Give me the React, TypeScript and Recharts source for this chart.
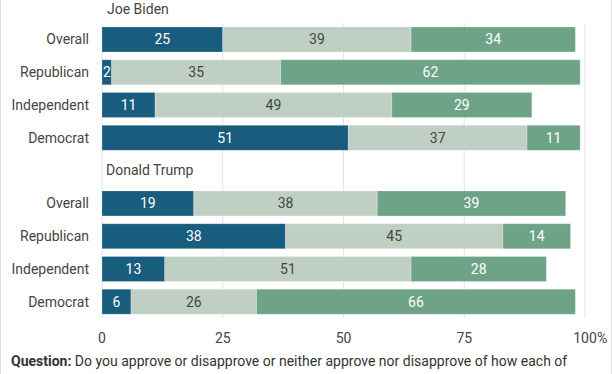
import React from 'react';
import { BarChart, Bar, XAxis, YAxis, CartesianGrid, LabelList } from 'recharts';

const groups = ['Overall', 'Republican', 'Independent', 'Democrat'];
const bidenApprove = [25, 2, 11, 51];
const bidenNeither = [39, 35, 49, 37];
const bidenDisapprove = [34, 62, 29, 11];
const trumpApprove = [19, 38, 13, 6];
const trumpNeither = [38, 45, 51, 26];
const trumpDisapprove = [39, 14, 28, 66];
const xTicks = [0, 25, 50, 75, 100];

const BLUE = '#185d7d';
const LIGHT = '#bfcfc4';
const GREEN = '#6ea387';
const TEXT = '#444';
const FONT = 'Roboto, "Noto Sans", sans-serif';

const rows: any[] = [
  ...groups.map((g, i) => ({
    id: 'b-' + g, label: g,
    approve: bidenApprove[i], neither: bidenNeither[i], disapprove: bidenDisapprove[i],
  })),
  { id: 'header-trump', label: 'Donald Trump', header: true },
  ...groups.map((g, i) => ({
    id: 't-' + g, label: g,
    approve: trumpApprove[i], neither: trumpNeither[i], disapprove: trumpDisapprove[i],
  })),
];

const YTick = ({ x, y, payload }: any) => {
  const row = rows.find((r) => r.id === payload.value);
  if (!row) return null;
  if (row.header) {
    return (
      <text x={106} y={y} dy="0.35em" textAnchor="start" fill={TEXT} fontSize={14} fontFamily={FONT}>
        {row.label}
      </text>
    );
  }
  return (
    <text x={x} y={y} dy="0.35em" textAnchor="end" fill={TEXT} fontSize={14} fontFamily={FONT}>
      {row.label}
    </text>
  );
};

const XTick = ({ x, y, payload }: any) => (
  <g>
    <text x={x} y={y} dy="0.71em" textAnchor="middle" fill={TEXT} fontSize={14} fontFamily={FONT}>
      {payload.value}
    </text>
    {payload.value === 100 && (
      <text x={x + 12} y={y} dy="0.71em" textAnchor="start" fill={TEXT} fontSize={14} fontFamily={FONT}>
        %
      </text>
    )}
  </g>
);

export default function App() {
  return (
    <div
      style={{
        position: 'absolute', left: 0, top: 0, width: 612, height: 374, overflow: 'hidden',
        background: '#fff', fontFamily: FONT, boxSizing: 'border-box',
        borderLeft: '1px solid #ddd', borderRight: '1px solid #ddd',
      }}
    >
      <div style={{ position: 'absolute', left: 106, top: 0, fontSize: 14, color: TEXT, lineHeight: '19px' }}>
        Joe Biden
      </div>
      <BarChart
        width={612}
        height={350}
        data={rows}
        layout="vertical"
        margin={{ top: 23, right: 27, bottom: 0, left: 0 }}
        barSize={25}
        style={{ position: 'absolute', left: -1, top: 0 }}
      >
        <CartesianGrid horizontal={false} stroke="#e3e3e3" />
        <XAxis
          type="number"
          domain={[0, 100]}
          ticks={xTicks}
          axisLine={false}
          tickLine={false}
          tick={<XTick />}
          height={32}
          tickMargin={9}
        />
        <YAxis
          type="category"
          dataKey="id"
          width={102}
          axisLine={false}
          tickLine={false}
          tick={<YTick />}
          tickMargin={7}
          interval={0}
        />
        <Bar dataKey="approve" stackId="a" fill={BLUE} stroke="#fff" strokeOpacity={0.4} strokeWidth={0.6} isAnimationActive={false}>
          <LabelList dataKey="approve" position="center" fill="#fff" fontSize={14} fontFamily={FONT} />
        </Bar>
        <Bar dataKey="neither" stackId="a" fill={LIGHT} stroke="#fff" strokeOpacity={0.4} strokeWidth={0.6} isAnimationActive={false}>
          <LabelList dataKey="neither" position="center" fill={TEXT} fontSize={14} fontFamily={FONT} />
        </Bar>
        <Bar dataKey="disapprove" stackId="a" fill={GREEN} stroke="#fff" strokeOpacity={0.4} strokeWidth={0.6} isAnimationActive={false}>
          <LabelList dataKey="disapprove" position="center" fill="#fff" fontSize={14} fontFamily={FONT} />
        </Bar>
      </BarChart>
      <div
        style={{
          position: 'absolute', left: 10, top: 352, width: 578, fontSize: 14, color: '#333', lineHeight: '19px',
        }}
      >
        <b>Question:</b> Do you approve or disapprove or neither approve nor disapprove of how each of
        the following has handled their job as a leader in the United States? We have a goal to know.
      </div>
    </div>
  );
}
